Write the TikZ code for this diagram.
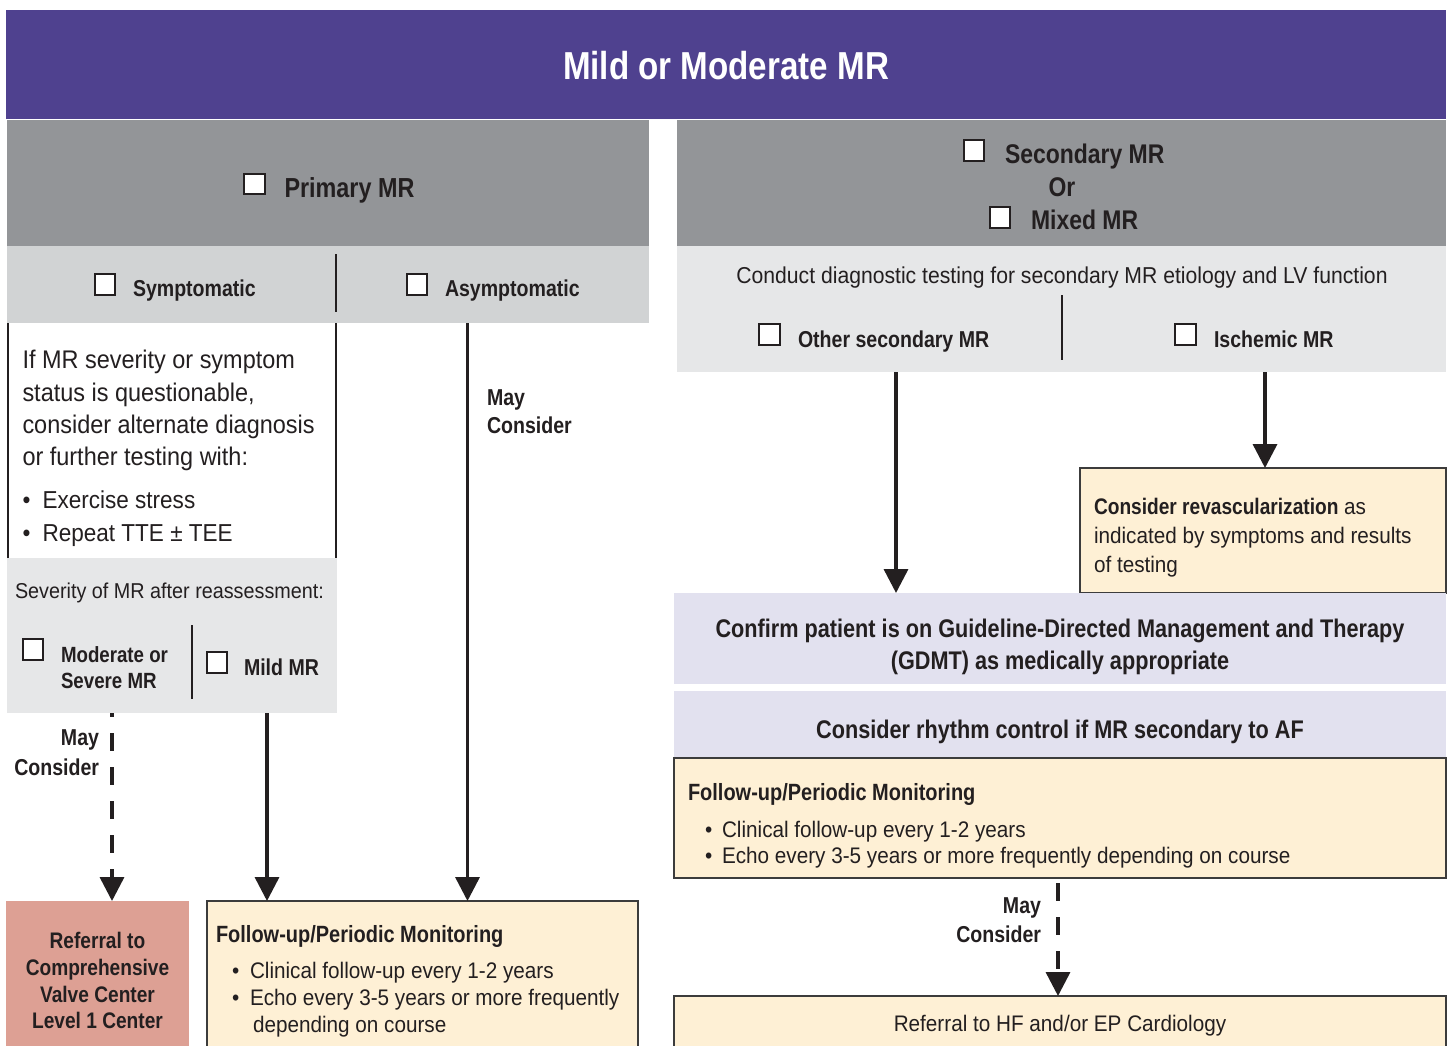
\documentclass[tikz,border=0pt]{standalone}
\usepackage{fontspec}
\setmainfont{Liberation Sans}[FakeStretch=0.92, BoldFeatures={FakeStretch=0.85}]
\usetikzlibrary{arrows.meta}
\definecolor{mpurple}{HTML}{4F418F}
\definecolor{mgray}{HTML}{939598}
\definecolor{mlight}{HTML}{D1D3D4}
\definecolor{mpanel}{HTML}{E6E7E8}
\definecolor{mlav}{HTML}{E2E1EF}
\definecolor{mcream}{HTML}{FEF0D5}
\definecolor{msalmon}{HTML}{DDA094}
\definecolor{ink}{HTML}{231F20}
\definecolor{mborder}{HTML}{3C3C3C}
\newcommand\fsz[1]{\fontsize{#1}{#1}\selectfont}
\newcommand\drawbox[6]{\node[boxn,#6,minimum width={#4-#2},minimum height={#5-#3}] (#1) at (#2,#3) {};}
\tikzset{
  boxn/.style={anchor=north west, inner sep=0pt, outer sep=0pt},
  cb/.style={draw=ink, line width=2pt, fill=white, minimum size=20.5pt, inner sep=0pt, outer sep=0pt},
  lab/.style={inner sep=0pt, outer sep=0pt, text=ink, anchor=base west},
  labc/.style={lab, anchor=base},
  labe/.style={lab, anchor=base east},
  cream/.style={fill=mcream, draw=mborder, line width=1.5pt},
  divider/.style={draw=ink, line width=2pt},
  arr/.style={draw=ink, line width=3.5pt, -{Triangle[length=24pt,width=24pt]}},
  darr/.style={arr, dash pattern=on 18pt off 16pt},
}
\begin{document}
\begin{tikzpicture}[x=1pt,y=-1pt]
\useasboundingbox (0,0) rectangle (1450,1046);
\clip (0,0) rectangle (1450,1046);
\fill[white] (0,0) rectangle (1450,1046);

% boxes
\drawbox{title}{6}{10}{1446}{119}{fill=mpurple}
\drawbox{primhead}{7}{120}{649}{246}{fill=mgray}
\drawbox{sechead}{677}{120}{1446}{246}{fill=mgray}
\drawbox{symbar}{7}{246}{649}{323}{fill=mlight}
\drawbox{secpanel}{677}{246}{1446}{372}{fill=mpanel}
\drawbox{leftbox}{8}{323}{336}{558}{}
\drawbox{sevbox}{7}{558}{337}{713}{fill=mpanel}
\drawbox{refbox}{6}{901}{189}{1070}{fill=msalmon}
\drawbox{fuL}{207}{901}{638}{1070}{cream}
\drawbox{revbox}{1080}{468}{1446}{593}{cream}
\drawbox{gdmt}{674}{593}{1446}{684}{fill=mlav}
\drawbox{rhythm}{674}{691}{1446}{758}{fill=mlav}
\drawbox{fuR}{674}{758}{1446}{878}{cream}
\drawbox{refHF}{674}{996}{1446}{1070}{cream}

\draw[draw=ink, line width=1.5pt] (leftbox.north west) -- (leftbox.south west);
\draw[draw=ink, line width=1.5pt] (leftbox.north east) -- (leftbox.south east);

% dividers
\draw[divider] (336,254) -- (336,312);
\draw[divider] (1062,295) -- (1062,360);
\draw[divider] (192,625) -- (192,699);

% title
\node[labc, text=white, font={\fsz{39}\bfseries}] (ttitle) at (726,80) {Mild or Moderate MR};

% checkboxes
\node[cb] (cbprim) at (254.5,184) {};
\node[cb] (cbsec) at (974,150.5) {};
\node[cb] (cbmix) at (1000,217.5) {};
\node[cb] (cbsym) at (105,284.5) {};
\node[cb] (cbasym) at (417,284.5) {};
\node[cb] (cboth) at (769.5,334.5) {};
\node[cb] (cbisc) at (1185.5,334.5) {};
\node[cb] (cbmod) at (33,649.5) {};
\node[cb] (cbmild) at (217,662.5) {};

% header labels
\node[lab, font={\fsz{27.5}\bfseries}] (tprim) at (284.5,197) {Primary MR};
\node[lab, font={\fsz{27}\bfseries}] (tsec) at (1005,163) {Secondary MR};
\node[labc, font={\fsz{27}\bfseries}] (tor) at (1062,196) {Or};
\node[lab, font={\fsz{27}\bfseries}] (tmix) at (1031,229) {Mixed MR};
\node[lab, font={\fsz{23}\bfseries}] (tsym) at (133,296) {Symptomatic};
\node[lab, font={\fsz{23}\bfseries}] (tasym) at (445,296) {Asymptomatic};
\node[labc, font={\fsz{23}}] (tcond) at (1062,283) {Conduct diagnostic testing for secondary MR etiology and LV function};
\node[lab, font={\fsz{23}\bfseries}] (toth) at (798,347) {Other secondary MR};
\node[lab, font={\fsz{23}\bfseries}] (tisc) at (1214,347) {Ischemic MR};

% left paragraph
\node[lab, font={\fsz{25.5}}] (p1) at (22.5,368) {If MR severity or symptom};
\node[lab, font={\fsz{25.5}}] (p2) at (22.5,401) {status is questionable,};
\node[lab, font={\fsz{25.5}}] (p3) at (22.5,433) {consider alternate diagnosis};
\node[lab, font={\fsz{25.5}}] (p4) at (22.5,465) {or further testing with:};
\node[lab, font={\fsz{24.5}}] (b1) at (22.5,508) {•};
\node[lab, font={\fsz{24.5}}] (p5) at (42.5,508) {Exercise stress};
\node[lab, font={\fsz{24.5}}] (b2) at (22.5,541) {•};
\node[lab, font={\fsz{24.5}}] (p6) at (42.5,541) {Repeat TTE ± TEE};

% severity
\node[lab, font={\fsz{21.5}}] (tsev) at (15,598) {Severity of MR after reassessment:};
\node[lab, font={\fsz{22}\bfseries}] (tmod1) at (61,662) {Moderate or};
\node[lab, font={\fsz{22}\bfseries}] (tmod2) at (61,688) {Severe MR};
\node[lab, font={\fsz{23}\bfseries}] (tmild) at (244,675) {Mild MR};

% May consider labels
\node[lab, font={\fsz{23}\bfseries}] (may1) at (487,405) {May};
\node[lab, font={\fsz{23}\bfseries}] (con1) at (487,433) {Consider};
\node[labe, font={\fsz{23}\bfseries}] (may2) at (99,745) {May};
\node[labe, font={\fsz{23}\bfseries}] (con2) at (99,775) {Consider};
\node[labe, font={\fsz{23}\bfseries}] (may3) at (1041,913) {May};
\node[labe, font={\fsz{23}\bfseries}] (con3) at (1041,942) {Consider};

% referral box
\node[labc, font={\fsz{22.5}\bfseries}] (r1) at (97.5,948) {Referral to};
\node[labc, font={\fsz{22.5}\bfseries}] (r2) at (97.5,975) {Comprehensive};
\node[labc, font={\fsz{22.5}\bfseries}] (r3) at (97.5,1002) {Valve Center};
\node[labc, font={\fsz{22.5}\bfseries}] (r4) at (97.5,1028) {Level 1 Center};

% left follow-up
\node[lab, font={\fsz{23.5}\bfseries}] (fl0) at (216,942) {Follow-up/Periodic Monitoring};
\node[lab, font={\fsz{22.5}}] (flb1) at (232,978) {•};
\node[lab, font={\fsz{22.5}}] (fl1) at (250,978) {Clinical follow-up every 1-2 years};
\node[lab, font={\fsz{22.5}}] (flb2) at (232,1005) {•};
\node[lab, font={\fsz{22.5}}] (fl2) at (250,1005) {Echo every 3-5 years or more frequently};
\node[lab, font={\fsz{22.5}}] (fl3) at (253,1032) {depending on course};

% revascularization
\node[lab, font={\fsz{22.5}}] (rv1) at (1094,514) {\bfseries Consider revascularization\mdseries{} as};
\node[lab, font={\fsz{22.5}}] (rv2) at (1094,543) {indicated by symptoms and results};
\node[lab, font={\fsz{22.5}}] (rv3) at (1094,572) {of testing};

% GDMT and rhythm
\node[labc, font={\fsz{25.5}\bfseries}] (g1) at (1060,637) {Confirm patient is on Guideline-Directed Management and Therapy};
\node[labc, font={\fsz{25.5}\bfseries}] (g2) at (1060,669) {(GDMT) as medically appropriate};
\node[labc, font={\fsz{25.5}\bfseries}] (rh) at (1060,738) {Consider rhythm control if MR secondary to AF};

% right follow-up
\node[lab, font={\fsz{23.5}\bfseries}] (fr0) at (688,800) {Follow-up/Periodic Monitoring};
\node[lab, font={\fsz{22.5}}] (frb1) at (705,837) {•};
\node[lab, font={\fsz{22.5}}] (fr1) at (722,837) {Clinical follow-up every 1-2 years};
\node[lab, font={\fsz{22.5}}] (frb2) at (705,863) {•};
\node[lab, font={\fsz{22.5}}] (fr2) at (722,863) {Echo every 3-5 years or more frequently depending on course};

% referral HF
\node[labc, font={\fsz{22.5}}] (thf) at (1060,1031) {Referral to HF and/or EP Cardiology};

% connectors
\coordinate (xa) at (467.5,0);
\coordinate (xb) at (267,0);
\coordinate (xc) at (112,0);
\coordinate (xd) at (896,0);
\coordinate (xe) at (1265,0);
\coordinate (xf) at (1058,0);
\draw[arr] (xa |- symbar.south) -- (xa |- fuL.north);
\draw[arr] (xb |- sevbox.south) -- (xb |- fuL.north);
\draw[darr, dash phase=14pt] (xc |- sevbox.south) -- (xc |- refbox.north);
\draw[arr] (xd |- secpanel.south) -- (xd |- gdmt.north);
\draw[arr] (xe |- secpanel.south) -- (xe |- revbox.north);
\draw[darr, dash phase=-5pt] (xf |- fuR.south) -- (xf |- refHF.north);
\end{tikzpicture}
\end{document}
